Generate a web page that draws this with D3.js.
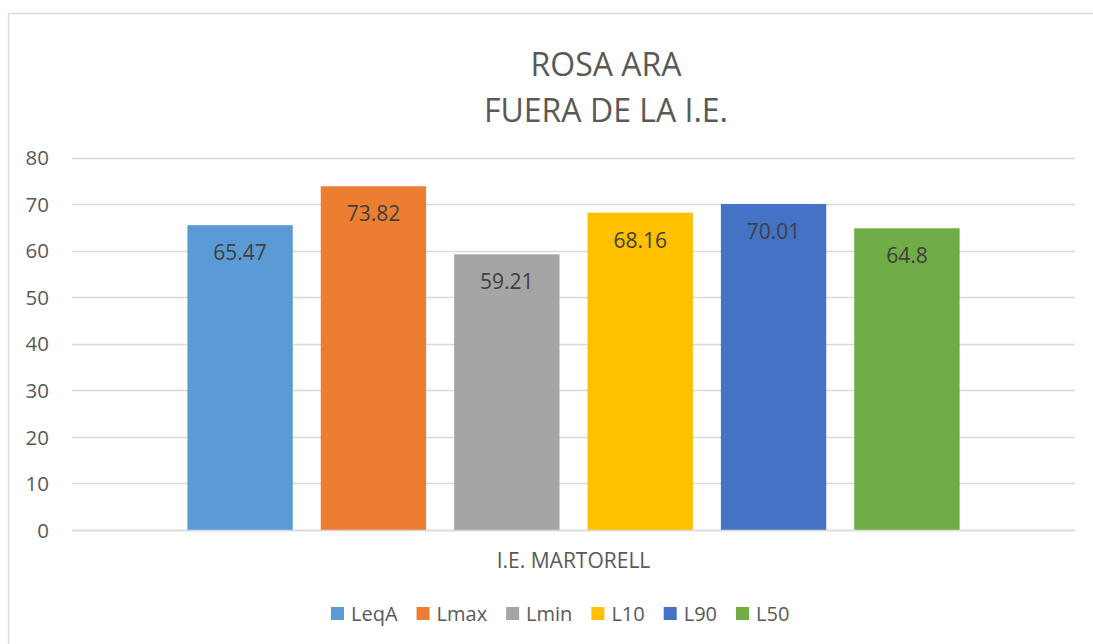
<!DOCTYPE html>
<html>
<head>
<meta charset="utf-8">
<script src="https://cdn.jsdelivr.net/npm/d3@7"></script>
<style>
  html, body { margin: 0; padding: 0; background: #fff; }
  svg { display: block; font-family: "Open Sans", sans-serif; }
</style>
</head>
<body>
<svg id="chart" width="1093" height="644"></svg>
<script>
const titleLines = ["ROSA ARA", "FUERA DE LA I.E."];
const categories = ["I.E. MARTORELL"];
const seriesNames = ["LeqA", "Lmax", "Lmin", "L10", "L90", "L50"];
const seriesValues = [65.47, 73.82, 59.21, 68.16, 70.01, 64.8];
const seriesLabels = ["65.47", "73.82", "59.21", "68.16", "70.01", "64.8"];
const seriesColors = ["#5B9BD5", "#ED7D31", "#A5A5A5", "#FFC000", "#4472C4", "#70AD47"];
const yTicks = [0, 10, 20, 30, 40, 50, 60, 70, 80];

const svg = d3.select("#chart");

// outer chart border
svg.append("rect")
  .attr("x", 8.5).attr("y", 13.5)
  .attr("width", 1200).attr("height", 800)
  .attr("fill", "none").attr("stroke", "#D9D9D9").attr("stroke-width", 1.5);

const plot = { left: 72, right: 1075, top: 157.5, bottom: 530 };

const y = d3.scaleLinear().domain([0, 80]).range([plot.bottom, plot.top]);
const x0 = d3.scaleBand().domain(categories).range([plot.left, plot.right]).padding(0.13);
const x1 = d3.scaleBand().domain(seriesNames).range([0, x0.bandwidth()]).paddingInner(0.21).paddingOuter(0);

// gridlines
svg.append("g").selectAll("line").data(yTicks).join("line")
  .attr("x1", plot.left).attr("x2", plot.right)
  .attr("y1", d => Math.round(y(d)) + 0.5).attr("y2", d => Math.round(y(d)) + 0.5)
  .attr("stroke", "#D9D9D9").attr("stroke-width", 1.3);

// y axis labels
const yAxis = d3.axisLeft(y).tickValues(yTicks).tickSize(0).tickPadding(0);
const yG = svg.append("g").attr("transform", "translate(49,0)").call(yAxis);
yG.select(".domain").remove();
yG.selectAll("text").attr("fill", "#595959").style("font-size", "20.5px")
  .style("font-family", "'Open Sans', sans-serif").attr("dy", "0.35em");

// bars
const data = seriesNames.map((s, i) => ({ cat: categories[0], name: s, value: seriesValues[i], label: seriesLabels[i], color: seriesColors[i] }));
const bars = svg.append("g");
bars.selectAll("rect").data(data).join("rect")
  .attr("x", d => x0(d.cat) + x1(d.name))
  .attr("width", x1.bandwidth())
  .attr("y", d => y(d.value))
  .attr("height", d => y(0) - y(d.value))
  .attr("fill", d => d.color);

// data labels
bars.selectAll("text").data(data).join("text")
  .attr("x", d => x0(d.cat) + x1(d.name) + x1.bandwidth() / 2)
  .attr("y", d => y(d.value) + 35)
  .attr("text-anchor", "middle")
  .attr("fill", "#404040")
  .style("font-size", "21px")
  .text(d => d.label);

// x axis baseline
svg.append("line")
  .attr("x1", plot.left).attr("x2", plot.right)
  .attr("y1", Math.round(y(0)) + 0.5).attr("y2", Math.round(y(0)) + 0.5)
  .attr("stroke", "#D9D9D9").attr("stroke-width", 1.5);

// category label
const xAxis = d3.axisBottom(x0).tickSize(0).tickPadding(0);
const xG = svg.append("g").attr("transform", "translate(0,568)").call(xAxis);
xG.select(".domain").remove();
xG.selectAll("text").attr("fill", "#595959").attr("dy", 0).attr("y", 0)
  .style("font-size", "21px").style("font-family", "'Open Sans', sans-serif");

// title
svg.append("g").selectAll("text").data(titleLines).join("text")
  .attr("x", 606)
  .attr("y", (d, i) => 76 + i * 46)
  .attr("text-anchor", "middle")
  .attr("fill", "#595959")
  .style("font-size", "32px")
  .text(d => d);

// legend
const legend = svg.append("g").attr("transform", "translate(331,0)");
let lx = 0;
seriesNames.forEach((s, i) => {
  const g = legend.append("g").attr("transform", `translate(${lx},0)`);
  g.append("rect").attr("x", 0).attr("y", 607).attr("width", 13).attr("height", 13).attr("fill", seriesColors[i]);
  const t = g.append("text").attr("x", 20).attr("y", 621).attr("fill", "#595959")
    .style("font-size", "20px").text(s);
  lx += 20 + t.node().getComputedTextLength() + 19;
});
</script>
</body>
</html>
